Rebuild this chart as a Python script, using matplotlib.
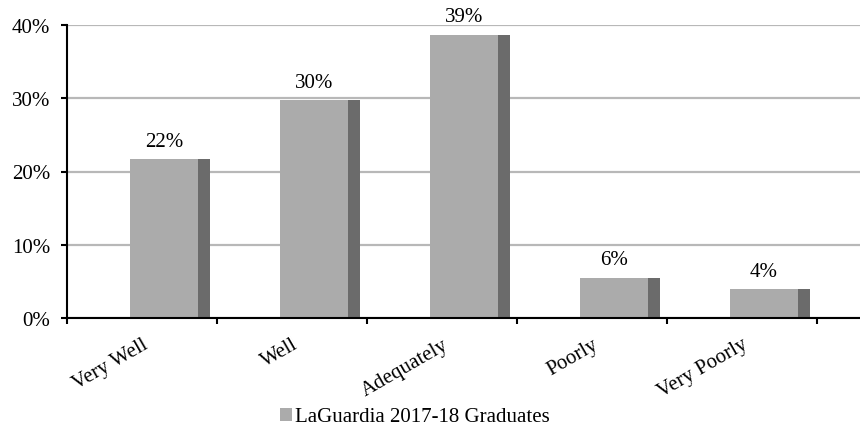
import matplotlib
matplotlib.use("Agg")
import matplotlib.pyplot as plt
from matplotlib.patches import Rectangle
import numpy as np

categories = ["Very Well", "Well", "Adequately", "Poorly", "Very Poorly"]
values = [21.7, 29.7, 38.7, 5.5, 3.9]
series_name = "LaGuardia 2017-18 Graduates"
yticks = [0, 10, 20, 30, 40]

plt.rcParams['font.family'] = ['Liberation Serif', 'DejaVu Serif']

W, H = 860, 427
fig = plt.figure(figsize=(W / 100, H / 100), dpi=100)
ax = fig.add_axes([67 / W, (H - 319) / H, 1 - 67 / W, (319 - 26) / H])

front_col = "#ababab"
side_col = "#6b6b6b"
grid_col = "#b8b8b8"
FS = 15

n = len(categories)
x = np.arange(n)
front_off, front_w, side_w = 0.42, 0.453, 0.08

ax.bar(x + front_off, values, width=front_w, align='edge', color=front_col,
       edgecolor='none', zorder=3)
ax.bar(x + front_off + front_w, values, width=side_w, align='edge', color=side_col,
       edgecolor='none', zorder=3)

for xi, v in zip(x, values):
    ax.text(xi + front_off + front_w / 2, v + 2.45, f"{v:.0f}%", ha='center',
            va='center', fontsize=FS, color='black', zorder=4)

ax.set_xlim(0, (860 - 67) / 150)
ax.set_ylim(0, 40)

ax.set_yticks(yticks)
ax.set_yticklabels([f"{t}%" for t in yticks])
ax.yaxis.grid(True, color=grid_col, linewidth=1.6, zorder=0)
ax.set_axisbelow(True)

ax.set_xticks(np.arange(n + 1))
ax.set_xticklabels([])
ax.set_xticks(x + 0.5, minor=True)
ax.set_xticklabels(categories, minor=True)
for lab in ax.get_xticklabels(minor=True):
    lab.set_rotation(30)
    lab.set_ha('right')
    lab.set_va('top')
    lab.set_rotation_mode('anchor')
    lab.set_fontsize(FS)

ax.tick_params(axis='x', which='major', direction='out', length=4, width=1.5, colors='black')
ax.tick_params(axis='x', which='minor', length=0, pad=12)
ax.tick_params(axis='y', direction='out', length=4, width=1.5, pad=8, labelsize=FS)

for s in ['top', 'right']:
    ax.spines[s].set_visible(False)
ax.spines['left'].set_linewidth(1.5)
ax.spines['bottom'].set_linewidth(1.5)
ax.spines['bottom'].set_zorder(5)

handle = Rectangle((0, 0), 1, 1, facecolor=front_col, edgecolor='none')
fig.legend([handle], [series_name], loc='center', bbox_to_anchor=(415 / W, 1 - 418 / H),
           frameon=False, fontsize=FS, handlelength=0.6, handleheight=0.6,
           handletextpad=0.15, borderpad=0)

fig.savefig("out.png", dpi=100)
